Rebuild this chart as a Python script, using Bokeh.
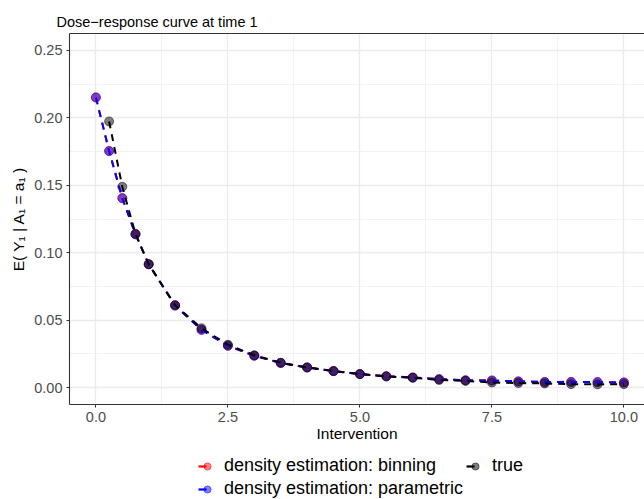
from bokeh.plotting import figure
from bokeh.layouts import column
from bokeh.models import (ColumnDataSource, Range1d, FixedTicker, LinearAxis,
                          Legend, LegendItem, NumeralTickFormatter)
from bokeh.embed import file_html
from bokeh.resources import INLINE

# ---- data ----
x_est = [0, 0.25, 0.5, 0.75, 1, 1.5, 2, 2.5, 3, 3.5, 4, 4.5, 5, 5.5, 6, 6.5,
         7, 7.5, 8, 8.5, 9, 9.5, 10]
binning = [0.2152, 0.1755, 0.1405, 0.1137, 0.0915, 0.0609, 0.0429, 0.0311,
           0.0237, 0.0183, 0.0150, 0.0123, 0.0101, 0.0085, 0.0076, 0.0064,
           0.0055, 0.0053, 0.0047, 0.0042, 0.0043, 0.0041, 0.0039]
parametric = [0.2150, 0.1753, 0.1404, 0.1136, 0.0914, 0.0608, 0.0428, 0.0310,
              0.0236, 0.0183, 0.0149, 0.0122, 0.0100, 0.0084, 0.0075, 0.0063,
              0.0054, 0.0053, 0.0046, 0.0042, 0.0042, 0.0041, 0.0038]
x_true = [0.25, 0.5, 0.75, 1, 1.5, 2, 2.5, 3, 3.5, 4, 4.5, 5, 5.5, 6, 6.5,
          7, 7.5, 8, 8.5, 9, 9.5, 10]
true_vals = [0.1973, 0.1489, 0.1140, 0.0915, 0.0612, 0.0440, 0.0318, 0.0240,
             0.0185, 0.0150, 0.0123, 0.0101, 0.0083, 0.0073, 0.0057, 0.0050,
             0.0038, 0.0034, 0.0031, 0.0026, 0.0024, 0.0026]

series_labels = ["density estimation: binning", "density estimation: parametric", "true"]
series_colors = ["red", "blue", "black"]

x_ticks = [0, 2.5, 5, 7.5, 10]
x_minor = [1.25, 3.75, 6.25, 8.75]
y_ticks = [0, 0.05, 0.10, 0.15, 0.20, 0.25]
y_minor = [0.025, 0.075, 0.125, 0.175, 0.225]

FONT = "Liberation Sans"
DASH = "7 6"

p = figure(width=644, height=446, output_backend="svg", toolbar_location=None,
           x_range=Range1d(-0.5, 10.39), y_range=Range1d(-0.0125, 0.2625),
           min_border_left=69, min_border_right=0, min_border_top=33,
           min_border_bottom=42, title="Dose\u2212response curve at time 1")
p.outline_line_color = None
p.background_fill_color = "white"
p.border_fill_color = "white"

p.title.text_font = FONT
p.title.text_font_size = "14.5px"
p.title.text_font_style = "normal"
p.title.text_color = "black"
p.title.align = "left"
p.title.offset = -13
p.title.standoff = 7

for ax in (p.xaxis[0], p.yaxis[0]):
    ax.axis_line_color = "#333333"
    ax.axis_line_width = 1.1
    ax.major_tick_line_color = "#333333"
    ax.major_tick_out = 3
    ax.major_tick_in = 0
    ax.minor_tick_line_color = None
    ax.major_label_text_font = FONT
    ax.major_label_text_font_size = "14.5px"
    ax.major_label_text_color = "#4D4D4D"
    ax.axis_label_text_font = FONT
    ax.axis_label_text_font_size = "15.5px"
    ax.axis_label_text_font_style = "normal"
    ax.axis_label_text_color = "black"
    ax.major_label_standoff = 3
    ax.axis_label_standoff = 4

p.xaxis[0].ticker = FixedTicker(ticks=x_ticks, minor_ticks=x_minor)
p.yaxis[0].ticker = FixedTicker(ticks=y_ticks, minor_ticks=y_minor)
p.xaxis[0].formatter = NumeralTickFormatter(format="0.0")
p.yaxis[0].formatter = NumeralTickFormatter(format="0.00")
p.xaxis[0].axis_label = "Intervention"
p.yaxis[0].axis_label = "E( Y\u2081 | A\u2081 = a\u2081 )"
p.xaxis[0].major_label_standoff = 3
p.xaxis[0].axis_label_standoff = 0

top = LinearAxis(ticker=FixedTicker(ticks=[]), axis_line_color="#333333",
                 axis_line_width=1.1, major_tick_line_color=None,
                 minor_tick_line_color=None, major_label_text_font_size="0px",
                 major_label_standoff=0)
p.add_layout(top, "above")

for g in (p.xgrid[0], p.ygrid[0]):
    g.grid_line_color = "#EBEBEB"
    g.grid_line_width = 1.3
    g.minor_grid_line_color = "#EFEFEF"
    g.minor_grid_line_width = 0.8

srcs = [ColumnDataSource(dict(x=x_est, y=binning)),
        ColumnDataSource(dict(x=x_est, y=parametric)),
        ColumnDataSource(dict(x=x_true, y=true_vals))]

for s, c in zip(srcs, series_colors):
    p.scatter("x", "y", source=s, size=9, color=c, alpha=0.5)
for s, c in zip(srcs, series_colors):
    p.line("x", "y", source=s, color=c, line_width=2, line_dash=DASH)

# ---- legend strip (separate figure below the plot; frame aligned with p) ----
lf = figure(width=644, height=53, output_backend="svg", toolbar_location=None,
            x_range=Range1d(0, 1), y_range=Range1d(0, 1),
            min_border_left=0, min_border_right=0, min_border_top=0,
            min_border_bottom=0)
lf.axis.visible = False
lf.grid.visible = False
lf.outline_line_color = None
lf.background_fill_color = "white"
lf.border_fill_color = "white"

items = []
for s, lab, c in zip(srcs, series_labels, series_colors):
    r1 = lf.line("x", "y", source=s, color=c, line_width=2.2, line_dash="8 12",
                 visible=False)
    r2 = lf.scatter("x", "y", source=s, size=8, color=c, alpha=0.5,
                    visible=False)
    items.append(LegendItem(label=lab, renderers=[r1, r2]))

legend = Legend(items=items, location=(129, 0), orientation="vertical", nrows=2,
                background_fill_alpha=0, border_line_color=None,
                inactive_fill_alpha=0,
                label_text_font=FONT, label_text_font_size="18px",
                label_text_color="black", glyph_width=18, glyph_height=20,
                label_height=20, label_width=240, spacing=2, padding=0, margin=0,
                label_standoff=8)
lf.add_layout(legend, "center")

open("out.html", "w").write(file_html(column(p, lf, spacing=0), INLINE))
